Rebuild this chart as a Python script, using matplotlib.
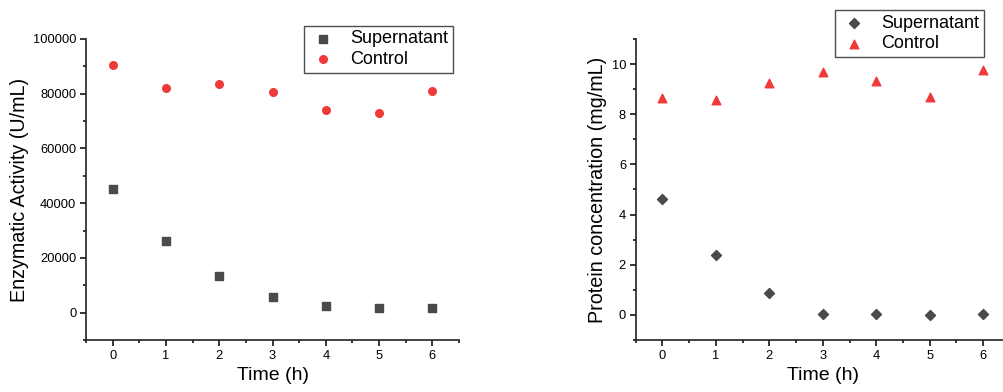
import matplotlib
matplotlib.use('Agg')
from matplotlib import pyplot as plt
from matplotlib.ticker import MultipleLocator

time_h = [0, 1, 2, 3, 4, 5, 6]
activity_sup = [45100, 26300, 13200, 5600, 2450, 1700, 1700]
activity_ctrl = [90300, 82000, 83700, 80550, 73950, 73100, 80800]
protein_sup = [4.60, 2.38, 0.86, 0.03, 0.02, 0.0, 0.02]
protein_ctrl = [8.64, 8.58, 9.24, 9.68, 9.34, 8.70, 9.75]

gray = '#4a4a4a'
red = '#f03a3a'

plt.rcParams['font.family'] = ['Liberation Sans', 'DejaVu Sans']

fig = plt.figure(figsize=(10.04, 3.92), dpi=100)
ax1 = fig.add_axes([0.0857, 0.1327, 0.3715, 0.768])
ax2 = fig.add_axes([0.6332, 0.1327, 0.3727, 0.768])


def style(ax):
    ax.spines['top'].set_visible(False)
    ax.spines['right'].set_visible(False)
    for s in ('left', 'bottom'):
        ax.spines[s].set_linewidth(1.2)
        ax.spines[s].set_color('#222222')
    ax.set_xlim(-0.5, 6.5)
    ax.xaxis.set_major_locator(MultipleLocator(1))
    ax.xaxis.set_minor_locator(MultipleLocator(0.5))
    ax.tick_params(which='major', direction='out', length=4, width=1.1, labelsize=9.3, pad=3)
    ax.tick_params(which='minor', direction='out', length=2.5, width=1.1)
    ax.set_xlabel('Time (h)', fontsize=14, labelpad=4)


def add_legend(ax, x, y):
    leg = ax.legend(loc='upper left', bbox_to_anchor=(x, y), bbox_transform=fig.transFigure,
                    fontsize=13, frameon=True, fancybox=False, edgecolor='#222222',
                    handletextpad=0.7, borderpad=0.25, labelspacing=0.2, handlelength=1.6,
                    borderaxespad=0)
    leg.get_frame().set_linewidth(1.0)


ax1.scatter(time_h, activity_sup, marker='s', s=28, color=gray, label='Supernatant', zorder=3)
ax1.scatter(time_h, activity_ctrl, marker='o', s=30, color=red, label='Control', zorder=3)
style(ax1)
ax1.set_ylim(-10000, 100000)
ax1.yaxis.set_major_locator(MultipleLocator(20000))
ax1.yaxis.set_minor_locator(MultipleLocator(10000))
ax1.set_ylabel('Enzymatic Activity (U/mL)', fontsize=14.2, labelpad=3)
add_legend(ax1, 0.303, 0.934)

ax2.scatter(time_h, protein_sup, marker='D', s=26, color=gray, label='Supernatant', zorder=3)
ax2.scatter(time_h, protein_ctrl, marker='^', s=38, color=red, label='Control', zorder=3)
style(ax2)
ax2.set_ylim(-1, 11)
ax2.yaxis.set_major_locator(MultipleLocator(2))
ax2.yaxis.set_minor_locator(MultipleLocator(1))
ax2.set_ylabel('Protein concentration (mg/mL)', fontsize=14.2, labelpad=3)
add_legend(ax2, 0.832, 0.974)

fig.savefig('out.png', dpi=100)
